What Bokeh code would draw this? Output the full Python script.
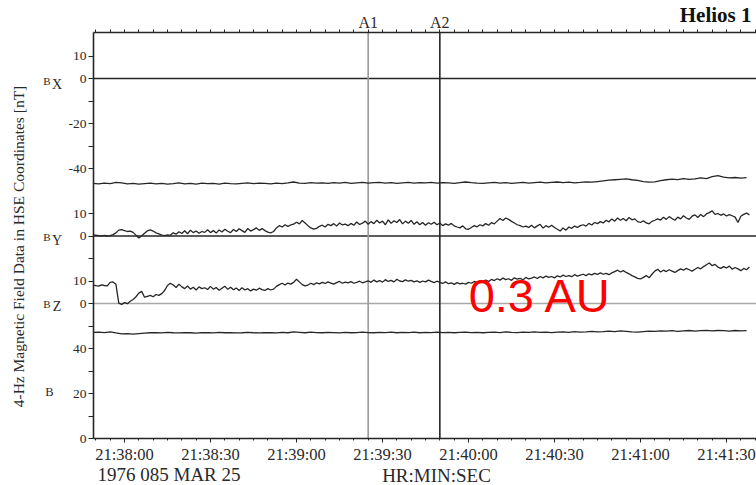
import math
from bokeh.plotting import figure
from bokeh.models import Range1d, LinearAxis, FixedTicker, Label
from bokeh.embed import file_html
from bokeh.resources import INLINE

# ---------------- data ----------------
# time in seconds after 21:38:00 UT, 1976 day 085 (MAR 25)
T_FAST = list(range(-11, 219))          # 1 s samples for By, Bz
T_SLOW = list(range(-11, 218, 2))       # 2 s samples for Bx, |B|

BY = [0.5, 0.4, 0.2, 0.1, 0.3, 0.0, 0.2, 0.6, 1.4, 2.6,
      2.8, 2.4, 2.0, 2.2, 1.6, 0.4, -0.9, 0.1, 1.2, 2.3,
      2.7, 2.2, 1.4, 0.9, 0.4, 0.2, 0.5, 0.3, 1.4, 0.8,
      1.9, 1.1, 2.3, 1.0, 2.6, 1.5, 2.2, 1.2, 2.0, 1.6,
      2.8, 1.5, 2.4, 1.3, 2.7, 1.8, 3.0, 2.1, 1.5, 2.9,
      2.0, 3.2, 2.4, 1.6, 3.4, 2.2, 2.8, 3.6, 2.5, 3.3,
      2.4, 1.7, 1.4, 2.0, 3.6, 4.6, 4.0, 5.0, 4.3, 4.9,
      5.3, 6.1, 5.4, 6.9, 5.8, 4.6, 3.6, 3.1, 3.4, 4.3,
      4.8, 4.0, 5.2, 4.6, 5.5, 4.4, 5.8, 4.9, 5.3, 4.6,
      5.6, 4.8, 6.2, 5.1, 5.7, 6.6, 5.2, 6.4, 5.5, 7.0,
      5.8, 6.6, 5.0, 7.2, 5.6, 6.8, 6.0, 7.3, 5.4, 6.6,
      5.7, 6.9, 5.2, 6.3, 5.0, 6.0, 4.8, 5.9, 5.2, 6.1,
      5.0, 5.8, 4.6, 5.4, 4.8, 5.6, 4.5, 4.0, 3.6, 4.5,
      3.2, 3.0, 3.8, 4.6, 4.1, 5.0, 4.5, 5.5, 4.8, 5.9,
      5.4, 6.6, 7.8, 6.9, 8.0, 7.4, 6.5, 5.8, 5.0, 4.6,
      4.0, 4.4, 3.8, 4.8, 3.6, 4.5, 5.2, 3.5, 4.6, 3.9,
      4.8, 3.8, 3.0, 2.2, 3.6, 2.6, 4.0, 3.4, 4.4, 3.8,
      4.6, 5.0, 4.4, 5.6, 4.9, 6.0, 5.5, 6.4, 5.8, 7.0,
      6.3, 7.6, 6.6, 8.0, 7.0, 7.8, 6.8, 8.2, 7.2, 7.6,
      6.4, 6.0, 6.8, 5.8, 5.4, 6.5, 7.0, 7.6, 7.1, 8.3,
      7.4, 8.6, 7.8, 7.0, 8.4, 7.6, 9.0, 8.0, 7.4, 8.8,
      9.4, 8.2, 9.6, 8.6, 9.8, 10.4, 11.2, 9.6, 10.0, 9.2,
      9.8, 8.9, 9.5, 9.0, 8.4, 6.0, 8.8, 9.6, 10.2, 9.4]

BZ = [8.2, 7.9, 7.7, 8.3, 8.0, 7.8, 9.4, 9.6, 8.6, 0.2,
      -0.4, 0.4, -0.1, 1.0, 1.8, 3.0, 4.6, 5.4, 2.8, 3.2,
      3.6, 3.0, 4.0, 3.6, 4.4, 5.8, 8.0, 9.0, 8.2, 7.1,
      8.6, 7.4, 6.6, 7.8, 6.4, 7.2, 6.0, 7.4, 6.6, 7.0,
      6.2, 7.6, 6.4, 7.1, 5.9, 6.8, 7.7, 6.3, 7.2, 6.1,
      6.9, 5.8, 7.0, 6.0, 6.6, 5.6, 6.4, 5.9, 6.8, 6.2,
      5.8, 6.6, 6.0, 6.4, 7.6, 8.4, 9.0, 8.2, 9.1, 8.6,
      9.4, 10.8, 9.6, 8.4, 7.8, 8.2, 9.0, 8.4, 9.2, 8.7,
      9.4, 8.9, 9.6, 9.1, 8.6, 9.3, 9.8, 9.0, 9.5, 9.2,
      9.7, 9.0, 9.4, 9.9, 9.2, 9.6, 10.1, 9.4, 10.4, 9.6,
      10.2, 9.5, 10.6, 9.8, 10.3, 9.6, 10.8, 10.0, 9.7, 10.5,
      9.9, 10.3, 9.6, 10.1, 9.4, 10.0, 9.6, 10.4, 9.8, 9.3,
      9.9, 9.4, 8.9, 9.6, 8.8, 9.2, 8.5, 9.3, 8.7, 9.0,
      8.6, 9.4, 9.0, 9.8, 9.2, 10.1, 9.6, 10.4, 9.8, 10.7,
      10.2, 11.0, 10.4, 11.3, 10.6, 11.0, 10.3, 11.4, 10.8, 11.2,
      10.5, 11.6, 10.9, 11.3, 11.8, 11.1, 12.0, 11.4, 12.2, 11.6,
      12.0, 11.4, 12.3, 11.8, 12.6, 12.0, 12.4, 11.9, 12.8, 12.2,
      12.6, 13.0, 12.4, 13.2, 12.7, 13.4, 12.9, 13.6, 13.0, 13.4,
      12.8, 13.6, 14.2, 14.8, 14.0, 14.6, 13.8, 13.2, 12.4, 11.8,
      11.2, 10.9, 11.6, 12.4, 11.4, 13.0, 14.4, 15.2, 14.0, 14.8,
      14.2, 15.0, 14.4, 13.8, 14.6, 15.4, 14.8, 15.6, 15.0, 14.4,
      15.2, 16.0, 15.4, 16.4, 17.2, 18.0, 16.8, 17.4, 16.2, 15.6,
      16.4, 15.8, 16.6, 15.2, 16.0, 15.4, 14.6, 15.6, 15.0, 16.2]

BX = [-46.6, -46.8, -46.5, -46.7, -46.2, -46.4, -46.8, -46.6, -46.9, -46.7,
      -46.5, -46.8, -46.6, -46.9, -46.7, -46.4, -46.8, -46.6, -46.9, -46.5,
      -46.7, -46.6, -46.9, -46.5, -46.7, -46.8, -46.6, -46.4, -46.7, -46.5,
      -46.6, -46.8, -46.5, -46.7, -46.4, -46.0, -46.5, -46.6, -46.3, -46.5,
      -46.4, -46.6, -46.3, -46.5, -46.2, -46.6, -46.4, -46.2, -46.5, -46.3,
      -46.2, -46.5, -46.3, -46.6, -46.4, -46.2, -46.5, -46.3, -46.4, -46.2,
      -46.5, -46.3, -46.4, -46.6, -46.3, -46.0, -46.3, -46.5, -46.6, -46.4,
      -46.2, -46.5, -46.3, -46.6, -46.4, -46.2, -46.5, -46.3, -46.1, -46.4,
      -46.2, -46.0, -46.3, -46.1, -46.4, -46.2, -45.9, -46.1, -45.8, -45.5,
      -45.2, -45.0, -44.8, -44.6, -45.0, -45.3, -45.8, -46.1, -45.9, -45.4,
      -45.0, -44.7, -44.9, -44.5, -44.8, -44.6, -44.2, -44.5, -43.6, -43.2,
      -43.8, -44.2, -44.0, -44.3, -44.1]

BMAG = [47.2, 47.3, 47.1, 47.4, 46.9, 46.5, 46.6, 46.4, 46.6, 46.8,
        47.0, 47.1, 46.9, 47.2, 47.0, 46.9, 47.1, 47.0, 46.8, 47.1,
        47.0, 46.9, 47.2, 47.0, 47.1, 46.9, 47.0, 47.2, 47.0, 46.9,
        47.1, 47.0, 46.9, 47.2, 47.0, 47.4, 47.2, 47.0, 47.3, 47.1,
        47.0, 47.2, 47.1, 46.9, 47.2, 47.0, 47.1, 47.3, 47.1, 47.0,
        47.2, 47.1, 47.3, 47.0, 47.2, 47.1, 47.3, 47.0, 47.2, 47.1,
        47.3, 47.1, 47.2, 47.0, 47.2, 47.3, 47.1, 47.2, 47.0, 47.2,
        47.3, 47.1, 47.4, 47.2, 47.1, 47.3, 47.2, 47.4, 47.2, 47.3,
        47.1, 47.3, 47.4, 47.2, 47.5, 47.3, 47.4, 47.6, 47.4, 47.5,
        47.7, 47.5, 47.8, 47.6, 47.4, 47.3, 47.5, 47.7, 47.6, 47.8,
        47.7, 47.9, 47.6, 47.8, 48.0, 47.7, 47.9, 48.1, 47.8, 48.0,
        47.9, 47.7, 48.0, 47.8, 47.9]

A_TIMES = [85, 110]
A_NAMES = ["A1", "A2"]

TIME_TICKS = [0, 30, 60, 90, 120, 150, 180, 210]
TIME_LABELS = ["21:38:00", "21:38:30", "21:39:00", "21:39:30",
               "21:40:00", "21:40:30", "21:41:00", "21:41:30"]

# stacked panels: baseline of each panel on the common nT scale,
# labelled ticks and unlabelled ticks (in the panel's own nT)
PANEL_BASE = {"Bx": 160, "By": 90, "Bz": 60, "B": 0}
PANEL_TICKS = {"Bx": [10, 0, -20, -40], "By": [10, 0], "Bz": [10, 0], "B": [40, 20, 0]}
PANEL_MINOR = {"Bx": [-10, -30], "By": [-10], "Bz": [-10], "B": [30, 10]}

# ---------------- layout ----------------
W, H = 756, 485
PX_PER_S = 86 / 30.0        # horizontal scale
PX_PER_NT = 2.25            # vertical scale

def at_x(px):  # canvas pixel -> time value
    return (px - 124) / PX_PER_S

def at_y(py):  # canvas pixel -> stacked nT value
    return (438 - py) / PX_PER_NT

X_LEFT, X_RIGHT = at_x(93), at_x(W)
Y_BOT, Y_TOP = 0.0, at_y(32)

SERIF = "Liberation Serif"
INK = "#262626"
TXT = "#2a2a2a"

p = figure(width=W, height=H, output_backend="svg", toolbar_location=None,
           x_range=Range1d(at_x(0), at_x(W)), y_range=Range1d(at_y(H), at_y(0)),
           x_axis_location=None, y_axis_location=None,
           min_border=0, outline_line_color=None,
           background_fill_color="white", border_fill_color="white")
p.grid.visible = False

# ----- left axis (stacked panel ticks) -----
yt, yo, ym = [], {}, []
for name, base in PANEL_BASE.items():
    for v in PANEL_TICKS[name]:
        yt.append(base + v)
        yo[base + v] = str(v)
    for v in PANEL_MINOR[name]:
        ym.append(base + v)
left = LinearAxis(ticker=FixedTicker(ticks=sorted(yt), minor_ticks=sorted(ym)),
                  major_label_overrides=yo, fixed_location=X_LEFT, bounds=(Y_BOT, Y_TOP),
                  major_tick_out=5, major_tick_in=0, minor_tick_out=5, minor_tick_in=0,
                  major_label_standoff=2, major_label_text_font=SERIF,
                  major_label_text_font_size="13.5px", major_label_text_color=TXT,
                  axis_line_width=1.6, axis_line_color=INK,
                  major_tick_line_color=INK, minor_tick_line_color=INK,
                  major_tick_line_width=1.2, minor_tick_line_width=1.2)
p.add_layout(left, "left")

# ----- bottom time axis -----
minor_x = [t for t in range(-10, 221, 5) if t % 30 != 0]
bottom = LinearAxis(ticker=FixedTicker(ticks=TIME_TICKS, minor_ticks=minor_x),
                    major_label_overrides=dict(zip(TIME_TICKS, TIME_LABELS)),
                    fixed_location=Y_BOT, bounds=(X_LEFT, X_RIGHT),
                    major_tick_out=4, major_tick_in=0, minor_tick_out=2, minor_tick_in=0,
                    major_label_standoff=2, major_label_text_font=SERIF,
                    major_label_text_font_size="16.5px", major_label_text_color=TXT,
                    axis_line_width=1.6, axis_line_color=INK,
                    major_tick_line_color=INK, minor_tick_line_color=INK)
p.add_layout(bottom, "below")

# ----- top frame edge with ticks only -----
top = LinearAxis(ticker=FixedTicker(ticks=[], minor_ticks=sorted(TIME_TICKS + minor_x)),
                 fixed_location=Y_TOP, bounds=(X_LEFT, X_RIGHT),
                 major_tick_out=0, major_tick_in=0, minor_tick_out=3, minor_tick_in=0,
                 axis_line_width=1.6, axis_line_color=INK, minor_tick_line_color=INK)
p.add_layout(top, "above")

# ----- panel zero lines -----
for name, col, lw in [("Bx", INK, 1.3), ("By", INK, 1.6), ("Bz", "#a8a8a8", 1.6)]:
    p.segment(x0=[X_LEFT], y0=[PANEL_BASE[name]], x1=[X_RIGHT], y1=[PANEL_BASE[name]],
              line_color=col, line_width=lw)

# ----- event markers -----
for t, name, col in zip(A_TIMES, A_NAMES, ["#9a9a9a", INK]):
    p.segment(x0=[t], y0=[Y_BOT], x1=[t], y1=[Y_TOP], line_color=col, line_width=1.6)
    p.add_layout(Label(x=t, y=at_y(22), text=name, text_align="center",
                       text_baseline="middle", text_font=SERIF,
                       text_font_size="16px", text_color=TXT))

# ----- traces -----
p.line(T_SLOW, [PANEL_BASE["Bx"] + v for v in BX], line_color=INK, line_width=1.3)
p.line(T_FAST, [PANEL_BASE["By"] + v for v in BY], line_color=INK, line_width=1.3)
p.line(T_FAST, [PANEL_BASE["Bz"] + v for v in BZ], line_color=INK, line_width=1.3)
p.line(T_SLOW, [PANEL_BASE["B"] + v for v in BMAG], line_color=INK, line_width=1.3)

# ----- panel names -----
for big, sub, by, sy in [("B", "X", 80.5, 83.5), ("B", "Y", 236.5, 239.5),
                          ("B", "Z", 303.5, 306)]:
    p.add_layout(Label(x=at_x(46.5), y=at_y(by), text=big, text_align="center",
                       text_baseline="middle", text_font=SERIF,
                       text_font_size="11px", text_color=TXT))
    p.add_layout(Label(x=at_x(56.5), y=at_y(sy), text=sub, text_align="center",
                       text_baseline="middle", text_font=SERIF,
                       text_font_size="14px", text_color=TXT))
p.add_layout(Label(x=at_x(49), y=at_y(391), text="B", text_align="center",
                   text_baseline="middle", text_font=SERIF,
                   text_font_size="12.5px", text_color=TXT))

# ----- titles and annotations -----
p.add_layout(Label(x=at_x(18), y=at_y(246), text="4-Hz Magnetic Field Data in HSE Coordinates [nT]",
                   angle=math.pi / 2, text_align="center", text_baseline="middle",
                   text_font=SERIF, text_font_size="15.5px", text_color=TXT))
p.add_layout(Label(x=at_x(751), y=at_y(14), text="Helios 1", text_align="right",
                   text_baseline="middle", text_font=SERIF, text_font_style="bold",
                   text_font_size="21px", text_color="#111111"))
p.add_layout(Label(x=at_x(97), y=at_y(474), text="1976 085 MAR 25", text_align="left",
                   text_baseline="middle", text_font=SERIF,
                   text_font_size="19px", text_color=TXT))
p.add_layout(Label(x=at_x(436), y=at_y(475), text="HR:MIN:SEC", text_align="center",
                   text_baseline="middle", text_font=SERIF,
                   text_font_size="19px", text_color=TXT))
p.add_layout(Label(x=at_x(540), y=at_y(295), text="0.3 AU", text_align="center",
                   text_baseline="middle", text_font="Liberation Sans",
                   text_font_size="47px", text_color="#ff0000"))

open("out.html", "w").write(file_html(p, INLINE))
